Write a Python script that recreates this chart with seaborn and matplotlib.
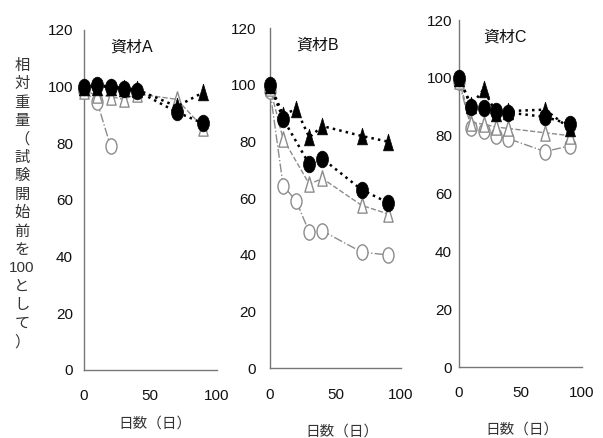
import numpy as np
import pandas as pd
import seaborn as sns
import matplotlib
matplotlib.use("Agg")
import matplotlib.pyplot as plt
from matplotlib import font_manager
from matplotlib.path import Path
import matplotlib.transforms as mtransforms

nan = np.nan

# 経過日数
days = [0, 10, 20, 30, 40, 70, 90]

# 資材A
a_tri_f = [100, 100, 100, 99.5, 99, 93, 98]
a_cir_f = [100, 100.5, 100, 99, 98.5, 91, 87]
a_tri_o = [98.5, 97, 96.5, 95.5, 97.5, 95.5, 85.5]
a_cir_o = [98.5, 94.5, 79, nan, nan, nan, nan]

# 資材B
b_tri_f = [100, 89.5, 91.5, 81.5, 85.5, 82, 80]
b_cir_f = [100, 88, nan, 72, 74, 63, 58.5]
b_tri_o = [99, 81, nan, 65, 67, 57.5, 54.5]
b_cir_o = [98, 64.5, 59, 48, 48.5, 41, 40]

# 資材C
c_tri_f = [100, 90.5, 96, 88, 88.5, 89, 82.5]
c_cir_f = [100, 90, 89.5, 88.5, 88, 86.5, 84]
c_tri_o = [99, 84.5, 84, 83, 82.5, 81, 80]
c_cir_o = [98.5, 82.5, 81.5, 80, 79, 74.5, 76.5]

titles = ['資材A', '資材B', '資材C']
x_ticks = [0, 50, 100]
y_ticks = [0, 20, 40, 60, 80, 100, 120]
ylabel_chars = ['相', '対', '重', '量', '（', '試', '験', '開', '始', '前', 'を',
                '100', 'と', 'し', 'て', '）']
xlabel = '日数（日）'

panels = [
    dict(tri_f=a_tri_f, cir_f=a_cir_f, tri_o=a_tri_o, cir_o=a_cir_o),
    dict(tri_f=b_tri_f, cir_f=b_cir_f, tri_o=b_tri_o, cir_o=b_cir_o),
    dict(tri_f=c_tri_f, cir_f=c_cir_f, tri_o=c_tri_o, cir_o=c_cir_o),
]

sns.set_theme(style='white')
names = {f.name for f in font_manager.fontManager.ttflist}
num_font = 'Liberation Sans Narrow' if 'Liberation Sans Narrow' in names else 'Liberation Sans'
plt.rcParams['font.family'] = [num_font, 'Noto Sans CJK JP', 'DejaVu Sans']

# 縦長のマーカー (スキャン画像に合わせる)
tri = Path([(0, 1), (-0.6, -1), (0.6, -1), (0, 1)], closed=True)
ell = Path.unit_circle().transformed(mtransforms.Affine2D().scale(0.72, 1))

gray = '#8c8c8c'
styles = [
    ('cir_o', dict(marker=ell, markerfacecolor='white', markeredgecolor=gray, color=gray,
                   linestyle='-.', linewidth=1.0, markersize=11, markeredgewidth=1.0)),
    ('tri_o', dict(marker=tri, markerfacecolor='white', markeredgecolor=gray, color=gray,
                   linestyle='--', linewidth=1.0, markersize=11, markeredgewidth=1.0)),
    ('cir_f', dict(marker=ell, markerfacecolor='black', markeredgecolor='black', color='black',
                   linestyle=':', linewidth=1.8, markersize=12, markeredgewidth=0.5)),
    ('tri_f', dict(marker=tri, markerfacecolor='black', markeredgecolor='black', color='black',
                   linestyle=':', linewidth=1.8, markersize=12, markeredgewidth=0.5)),
]

fig = plt.figure(figsize=(6.03, 4.38), dpi=100)
rects = [[0.1393, 0.1553, 0.2199, 0.7763],
         [0.4478, 0.1591, 0.2172, 0.7763],
         [0.7612, 0.1621, 0.2040, 0.7922]]
ypads = [8, 10, 5]

for i, (panel, rect) in enumerate(zip(panels, rects)):
    ax = fig.add_axes(rect)
    df = pd.DataFrame({'day': days, **panel})
    for key, kw in styles:
        sub = df[['day', key]].dropna()
        sns.lineplot(data=sub, x='day', y=key, ax=ax, clip_on=False, zorder=3, **kw)
    ax.set_xlim(0, 100)
    ax.set_ylim(0, 120)
    ax.set_xticks(x_ticks)
    ax.set_yticks(y_ticks)
    ax.set_xlabel('')
    ax.set_ylabel('')
    for s in ['top', 'right']:
        ax.spines[s].set_visible(False)
    for s in ['left', 'bottom']:
        ax.spines[s].set_color('#777777')
        ax.spines[s].set_linewidth(1.0)
    ax.tick_params(axis='x', direction='in', length=4, color='#777777', pad=14,
                   labelsize=11, labelcolor='#111111')
    ax.tick_params(axis='y', direction='in', length=3, color='#777777', pad=ypads[i],
                   labelsize=11, labelcolor='#111111')
    ax.text(0.2, 0.95, titles[i], transform=ax.transAxes, fontsize=11.5, ha='left', va='center',
            color='#111111')
    ax.patch.set_alpha(0)

# 縦書きの軸ラベル
for j, ch in enumerate(ylabel_chars):
    y = 66 + j * 18.4
    fig.text(22 / 603, 1 - y / 438, ch, ha='center', va='center', fontsize=11, color='#333333')

# 各パネルの横軸ラベル
for cx, cy in [(155, 424), (342, 432), (522, 430)]:
    fig.text(cx / 603, 1 - cy / 438, xlabel, ha='center', va='center', fontsize=10.5, color='#333333')

fig.savefig('out.png', dpi=100)
